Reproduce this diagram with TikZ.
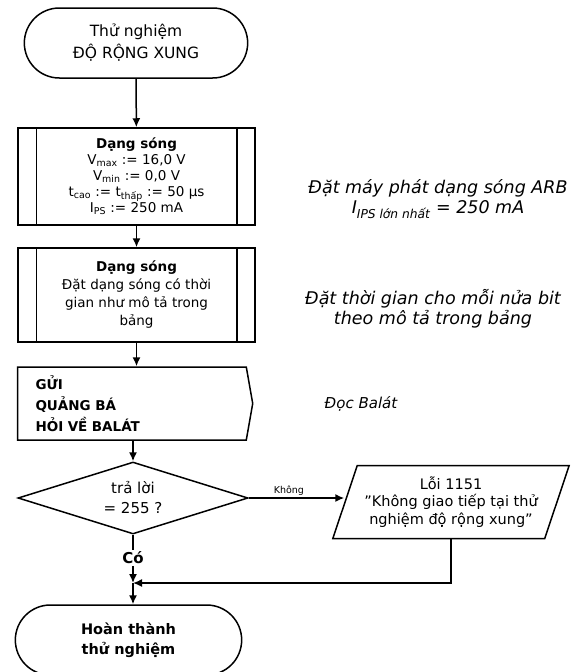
\documentclass[tikz,border=0pt]{standalone}
\usepackage{fontspec}
\setmainfont{DejaVu Sans}
\usetikzlibrary{positioning,arrows.meta,shapes.misc,shapes.geometric,shapes.symbols}

\begin{document}
\begin{tikzpicture}[x=1pt,y=-1pt,line width=1.5pt]
\tikzstyle{term}=[draw, rounded rectangle, minimum width=230pt, minimum height=70pt, align=center]
\tikzstyle{wave}=[draw, rectangle, minimum width=237pt, inner sep=0pt, align=center]
\tikzstyle{sendbox}=[draw, signal, signal to=east, signal pointer angle=160, minimum width=235pt, minimum height=73pt, text width=193pt, align=left, font=\fontsize{13.5}{21}\selectfont\bfseries]
\tikzstyle{ask}=[draw, diamond, aspect=3.2, minimum width=230pt, minimum height=72pt, inner sep=0pt, align=center, font=\fontsize{15}{20}\selectfont]
\tikzstyle{outbox}=[draw, trapezium, trapezium left angle=66, trapezium right angle=114, trapezium stretches=true, minimum width=237pt, minimum height=73pt, inner sep=0pt, align=center, font=\fontsize{14.5}{17.5}\selectfont]
\tikzstyle{note}=[align=center, font=\fontsize{17.5}{20}\selectfont\itshape]
\useasboundingbox (0,0) rectangle (577,672);

\node[term, font=\fontsize{15.5}{22}\selectfont] (start) at (136,43) {Thử nghiệm\\ĐỘ RỘNG XUNG};
\node[wave, minimum height=97pt, font=\fontsize{13.5}{16}\selectfont] (wave1) at (136.5,176.5)
  {\textbf{Dạng sóng}\\V\textsubscript{max} := 16,0 V\\V\textsubscript{min} := 0,0 V\\t\textsubscript{cao} := t\textsubscript{thấp} := 50 µs\\I\textsubscript{PS} := 250 mA};
\node[wave, minimum height=94pt, font=\fontsize{13.5}{18}\selectfont] (wave2) at (136.5,295)
  {\textbf{Dạng sóng}\\Đặt dạng sóng có thời\\gian như mô tả trong\\bảng};
\node[sendbox] (send) at (132,403.5) {GỬI\\QUẢNG BÁ\\HỎI VỀ BALÁT};
\node[ask] (ask) at (133,498) {trả lời\\= 255 ?};
\node[outbox] (err) at (451,502) {Lỗi 1151\\"Không giao tiếp tại thử\\nghiệm độ rộng xung"};
\node[font=\fontsize{15}{18}\selectfont\bfseries, inner sep=1pt] (yes) at (133,558) {Có};
\coordinate (join) at (133,583);
\node[term, minimum width=233pt, font=\fontsize{14.5}{20}\selectfont\bfseries] (fin) at (128.5,640) {Hoàn thành\\thử nghiệm};

% ghi chu ben phai
\node[note] (n1) at (438,199) {Đặt máy phát dạng sóng ARB\\I\textsubscript{IPS lớn nhất} = 250 mA};
\node[note] (n2) at (433,309) {Đặt thời gian cho mỗi nửa bit\\theo mô tả trong bảng};
\node[note, font=\fontsize{15}{18}\selectfont\itshape] (n3) at (361,404) {Đọc Balát};

\foreach \b in {wave1,wave2} {
  \draw ([xshift=19pt]\b.north west) -- ([xshift=19pt]\b.south west);
  \draw ([xshift=-19pt]\b.north east) -- ([xshift=-19pt]\b.south east);
}

\draw[->,>={Latex[length=9pt,width=8pt]}] (start)--(wave1);
\draw[->,>={Latex[length=9pt,width=8pt]}] (wave1)--(wave2);
\draw[->,>={Latex[length=9pt,width=8pt]}] (wave2.south)--(wave2.south |- send.north);
\draw[->,>={Latex[length=9pt,width=8pt]}] (send.south -| ask.north)--(ask.north);
\draw[->,>={Latex[length=9pt,width=8pt]}] (ask.east)--node[above, pos=0.42, inner sep=2pt, font=\fontsize{9.5}{11}\selectfont]{Không}(ask.east -| err.west);
\draw (ask.south)--(yes);
\draw[->,>={Latex[length=9pt,width=8pt]}] (yes)--(join);
\draw[->,>={Latex[length=9pt,width=8pt]}] (err.south) |- (join);
\draw[->,>={Latex[length=9pt,width=8pt]}] (join)--(join |- fin.north);
\end{tikzpicture}
\end{document}
